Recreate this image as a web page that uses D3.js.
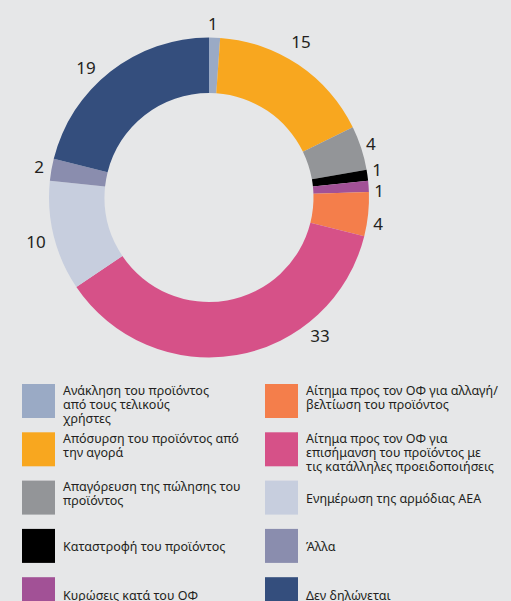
<!DOCTYPE html>
<html>
<head>
<meta charset="utf-8">
<script src="https://cdn.jsdelivr.net/npm/d3@7"></script>
<style>
  html, body { margin: 0; padding: 0; background: #e6e7e8; }
  svg { display: block; }
  text { font-family: "Noto Sans", "DejaVu Sans", sans-serif; fill: #231f20; }
</style>
</head>
<body>
<svg id="chart" width="511" height="601"></svg>
<script>
// ---- data ----
const categories = [
  "Ανάκληση του προϊόντος από τους τελικούς χρήστες",
  "Απόσυρση του προϊόντος από την αγορά",
  "Απαγόρευση της πώλησης του προϊόντος",
  "Καταστροφή του προϊόντος",
  "Κυρώσεις κατά του ΟΦ",
  "Αίτημα προς τον ΟΦ για αλλαγή/βελτίωση του προϊόντος",
  "Αίτημα προς τον ΟΦ για επισήμανση του προϊόντος με τις κατάλληλες προειδοποιήσεις",
  "Ενημέρωση της αρμόδιας ΑΕΑ",
  "Άλλα",
  "Δεν δηλώνεται"
];
const values = [1, 15, 4, 1, 1, 4, 33, 10, 2, 19];
const legendLines = [
  ["Ανάκληση του προϊόντος", "από τους τελικούς", "χρήστες"],
  ["Απόσυρση του προϊόντος από", "την αγορά"],
  ["Απαγόρευση της πώλησης του", "προϊόντος"],
  ["Καταστροφή του προϊόντος"],
  ["Κυρώσεις κατά του ΟΦ"],
  ["Αίτημα προς τον ΟΦ για αλλαγή/", "βελτίωση του προϊόντος"],
  ["Αίτημα προς τον ΟΦ για", "επισήμανση του προϊόντος με", "τις κατάλληλες προειδοποιήσεις"],
  ["Ενημέρωση της αρμόδιας ΑΕΑ"],
  ["Άλλα"],
  ["Δεν δηλώνεται"]
];
const colors = ["#9aaac5", "#f8a71f", "#939598", "#000000", "#a25196",
                "#f47e4b", "#d65188", "#c7cede", "#8a8dae", "#344e7d"];

// ---- layout (label placement nudges, degrees, and radii) ----
const labelNudge = [-0.7, -3.4, -0.3, -1.6, 1.5, 2.6, -28.9, -0.4, 0.5, -5.3];
const labelRadius = [174.5, 180.7, 170.6, 170.4, 170.2, 171, 176.7, 178.6, 172.9, 179.3];

const svg = d3.select("#chart");
svg.append("rect").attr("width", 511).attr("height", 601).attr("fill", "#e6e7e8");

const cx = 209, cy = 197.5, rOuter = 160, rInner = 104.5;
const g = svg.append("g").attr("transform", `translate(${cx},${cy})`);

const pie = d3.pie().value(d => d).sort(null).startAngle(0).endAngle(2 * Math.PI);
const arcs = pie(values);
const arc = d3.arc().innerRadius(rInner).outerRadius(rOuter);

g.selectAll("path.slice").data(arcs).enter().append("path")
  .attr("class", "slice")
  .attr("d", arc)
  .attr("fill", (d, i) => colors[i]);

g.selectAll("text.val").data(arcs).enter().append("text")
  .attr("class", "val")
  .attr("text-anchor", "middle")
  .attr("dominant-baseline", "central")
  .attr("font-size", 17)
  .attr("x", (d, i) => {
    const a = (d.startAngle + d.endAngle) / 2 + labelNudge[i] * Math.PI / 180;
    return labelRadius[i] * Math.sin(a);
  })
  .attr("y", (d, i) => {
    const a = (d.startAngle + d.endAngle) / 2 + labelNudge[i] * Math.PI / 180;
    return -labelRadius[i] * Math.cos(a);
  })
  .text(d => d.data);

// ---- legend ----
const colX = [22, 265], textOff = 41, rowTop = 384, rowStep = 48.3, sq = 34, lineH = 14.3;
const leg = svg.append("g");
categories.forEach((c, i) => {
  const col = Math.floor(i / 5), row = i % 5;
  const x = colX[col], y = rowTop + row * rowStep;
  const item = leg.append("g");
  item.append("rect").attr("x", x).attr("y", y).attr("width", 33).attr("height", sq)
    .attr("fill", colors[i]);
  const lines = legendLines[i];
  const first = lines.length === 1 ? y + 22.5 : y + 10.5;
  const t = item.append("text")
    .attr("x", x + textOff)
    .attr("y", first)
    .attr("font-size", 12.5);
  lines.forEach((ln, j) => {
    t.append("tspan")
      .attr("x", x + textOff)
      .attr("dy", j === 0 ? 0 : lineH)
      .text(ln);
  });
});
</script>
</body>
</html>
